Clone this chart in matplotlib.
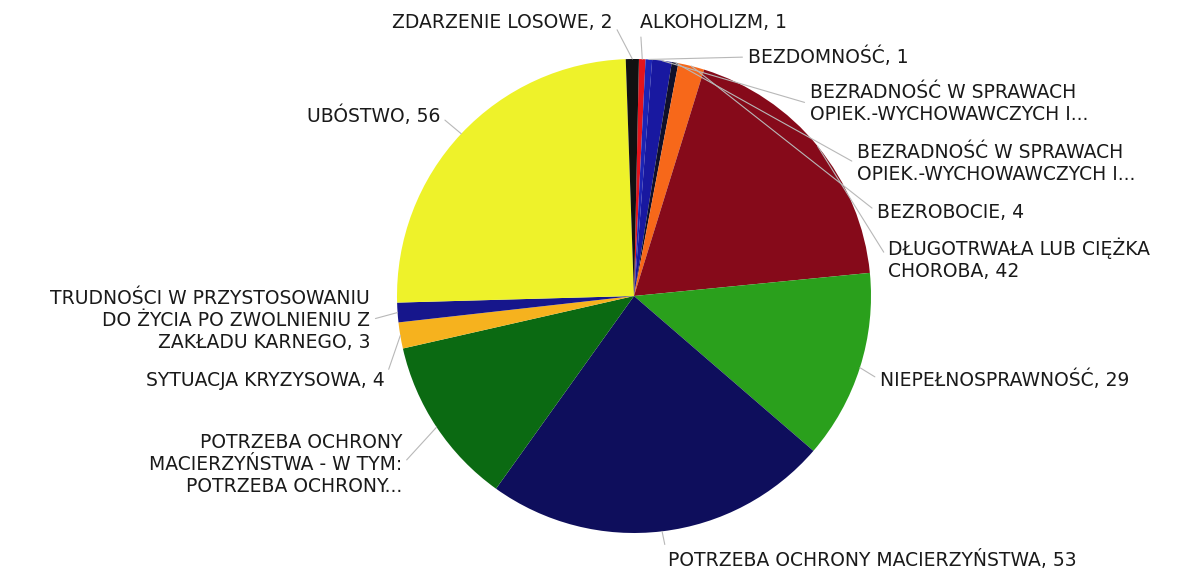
import matplotlib
matplotlib.use("Agg")
import matplotlib.pyplot as plt
import numpy as np

# ---------- DATA ----------
labels = [
    "ALKOHOLIZM, 1",
    "BEZDOMNOŚĆ, 1",
    "BEZRADNOŚĆ W SPRAWACH\nOPIEK.-WYCHOWAWCZYCH I...",
    "BEZRADNOŚĆ W SPRAWACH\nOPIEK.-WYCHOWAWCZYCH I...",
    "BEZROBOCIE, 4",
    "DŁUGOTRWAŁA LUB CIĘŻKA\nCHOROBA, 42",
    "NIEPEŁNOSPRAWNOŚĆ, 29",
    "POTRZEBA OCHRONY MACIERZYŃSTWA, 53",
    "POTRZEBA OCHRONY\nMACIERZYŃSTWA - W TYM:\nPOTRZEBA OCHRONY...",
    "SYTUACJA KRYZYSOWA, 4",
    "TRUDNOŚCI W PRZYSTOSOWANIU\nDO ŻYCIA PO ZWOLNIENIU Z\nZAKŁADU KARNEGO, 3",
    "UBÓSTWO, 56",
    "ZDARZENIE LOSOWE, 2",
]
values = [1, 1, 3, 1, 4, 42, 29, 53, 26, 4, 3, 56, 2]
colors = ["#e3141c", "#1c24b4", "#1818a0", "#10102a", "#f7681a", "#860a1a",
          "#2aa01c", "#0e0e5c", "#0b6a12", "#f6b21e", "#16168c", "#eef22a",
          "#111111"]

# ---------- LAYOUT (label positions in figure pixels, from top) ----------
W, H = 1186, 572
CX, CY, R = 634, 296, 237
label_pos = [
    (640, 22, "left"),
    (748, 57, "left"),
    (810, 104, "left"),
    (857, 164, "left"),
    (877, 212, "left"),
    (888, 259, "left"),
    (880, 380, "left"),
    (668, 560, "left"),
    (402, 465, "right"),
    (385, 380, "right"),
    (370, 320, "right"),
    (440, 116, "right"),
    (613, 22, "right"),
]

fig = plt.figure(figsize=(W / 100, H / 100), dpi=100)
ax = fig.add_axes([(CX - R) / W, (H - CY - R) / H, 2 * R / W, 2 * R / H])

wedges, _ = ax.pie(values, colors=colors, startangle=88.8, counterclock=False,
                   radius=1, wedgeprops=dict(linewidth=0))
ax.set_xlim(-1, 1)
ax.set_ylim(-1, 1)
ax.set_aspect("equal")
ax.axis("off")

for w, lab, (px, py, ha) in zip(wedges, labels, label_pos):
    mid = np.deg2rad((w.theta1 + w.theta2) / 2)
    anchor = (np.cos(mid), np.sin(mid))
    ax.annotate(lab, xy=anchor, xytext=(px, H - py), textcoords="figure pixels",
                ha=ha, va="center", multialignment=ha, fontsize=13.5,
                linespacing=1.2, color="#1a1a1a", annotation_clip=False,
                arrowprops=dict(arrowstyle="-", color="#b8b8b8", lw=0.8,
                                shrinkA=2, shrinkB=0,
                                relpos=(0, 0.5) if ha == "left" else (1, 0.5)))

fig.savefig("out.png", dpi=100)
